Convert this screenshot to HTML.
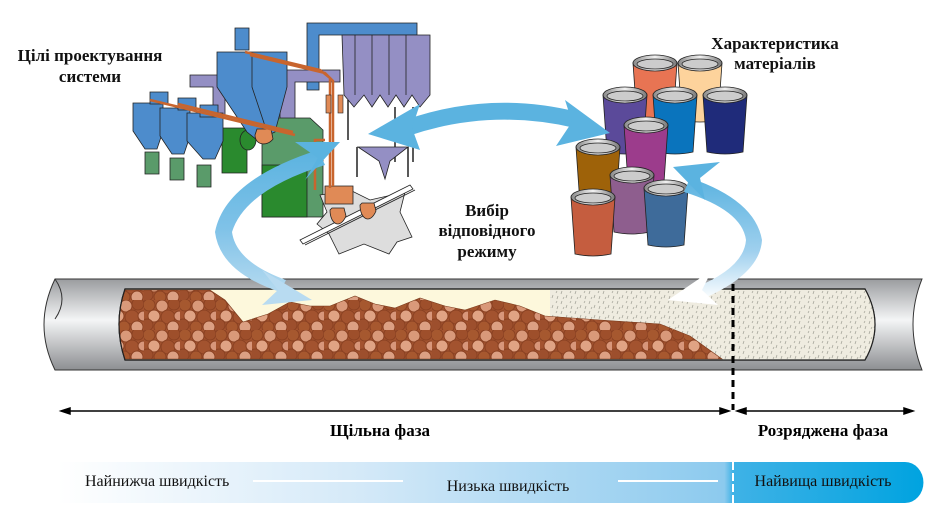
<!DOCTYPE html>
<html><head><meta charset="utf-8"><style>
html,body{margin:0;padding:0;background:#fff;}
svg{display:block;}
text{font-family:"Liberation Serif","Times New Roman",serif;}
</style></head><body>
<svg width="940" height="531" viewBox="0 0 940 531" xmlns="http://www.w3.org/2000/svg" font-family="Liberation Serif, Times New Roman, serif">
<defs>
<linearGradient id="pipeG" x1="0" y1="0" x2="0" y2="1">
<stop offset="0" stop-color="#9a9c9f"/><stop offset="0.45" stop-color="#f4f5f6"/><stop offset="1" stop-color="#8d8f92"/>
</linearGradient>
<linearGradient id="barG" x1="0" y1="0" x2="1" y2="0">
<stop offset="0" stop-color="#ffffff"/><stop offset="0.35" stop-color="#d4e9f8"/><stop offset="0.77" stop-color="#8ccaee"/><stop offset="0.78" stop-color="#3fb2e6"/><stop offset="1" stop-color="#00a3e0"/>
</linearGradient>
<linearGradient id="lidG" x1="0" y1="0" x2="1" y2="0">
<stop offset="0" stop-color="#888"/><stop offset="0.5" stop-color="#f2f2f2"/><stop offset="1" stop-color="#777"/>
</linearGradient>
<linearGradient id="arrL" x1="0" y1="0" x2="0" y2="1">
<stop offset="0" stop-color="#5bb3e0"/><stop offset="0.55" stop-color="#7fc2e8"/><stop offset="1" stop-color="#b5daf0"/>
</linearGradient>
<linearGradient id="arrR" x1="0" y1="0" x2="0" y2="1">
<stop offset="0" stop-color="#5bb3e0"/><stop offset="0.6" stop-color="#9fd0ee"/><stop offset="1" stop-color="#ffffff"/>
</linearGradient>
<pattern id="rocks" width="36" height="30" patternUnits="userSpaceOnUse">
<rect width="36" height="30" fill="#a3532f"/>
<g stroke="#8a4122" stroke-width="1">
<circle cx="5" cy="5" r="6" fill="#a6582f"/><circle cx="18" cy="6" r="6" fill="#d9997a"/><circle cx="30" cy="4" r="6" fill="#9e4f2b"/>
<circle cx="10" cy="16" r="6" fill="#e0a384"/><circle cx="24" cy="17" r="7" fill="#a3532f"/><circle cx="35" cy="16" r="5" fill="#d8967a"/>
<circle cx="3" cy="25" r="6" fill="#9d4f2d"/><circle cx="16" cy="27" r="6" fill="#a7582f"/><circle cx="29" cy="27" r="6" fill="#dca083"/>
</g>
</pattern>
<pattern id="speck" width="14" height="10" patternUnits="userSpaceOnUse">
<rect width="14" height="10" fill="#efece0"/>
<g stroke="#a7a79c" stroke-width="0.8"><path d="M2 1l-1 3M7 5l-1 3M11 1l-1 2M4 7l-1 2M12 6l-1 3"/></g>
</pattern>
</defs>

<g stroke="#222" stroke-width="0.8">
<path d="M307 23h110v12h-98v55h-12z" fill="#4d8ccc"/>
<path d="M342 35h88v60l-10 12-8-12-8 12-8-12-8 12-8-12-8 12-8-12-10 12-10-12z" fill="#948fc4"/>
<path d="M355 35v60M372 35v60M389 35v60M406 35v60" fill="none"/>
<path d="M348 100v40M395 107v55M413 107v55" fill="none" stroke-width="1.5"/>
<path d="M280 70h60v12h-45v40h-15z" fill="#948fc4"/>
<path d="M190 75h35v40h-12v-28h-23z" fill="#948fc4"/>
<path d="M358 147h50l-18 14-5 18-6-18z" fill="#948fc4"/>
<path d="M357 147v30M408 147v30" fill="none" stroke-width="1.5"/>
<path d="M262 118h48l13 12v87h-61z" fill="#5a9b6a"/>
<path d="M262 165h45v52h-45z" fill="#2a8a2e"/>
<path d="M222 128h25v45h-25z" fill="#2a8a2e"/>
<ellipse cx="248" cy="140" rx="8" ry="10" fill="#2a8a2e"/>
<path d="M235 28h14v22h-14z" fill="#4d8ccc"/>
<path d="M217 52h70v35l-12 45-18 8-10-8-30-45z" fill="#4d8ccc"/>
<path d="M252 52v35l15 45" fill="none"/>
<path d="M255 135c0 10 12 12 18 4l-2-10h-14z" fill="#e08a56"/>
<g fill="#4d8ccc">
<path d="M133 103h30v28l-6 18h-12l-12-18z"/><path d="M160 108h30v28l-6 18h-12l-12-18z"/><path d="M187 113h36v28l-8 18h-12l-16-18z"/>
<path d="M150 92h18v12h-18zM178 98h18v12h-18zM200 105h18v12h-18z"/>
</g>
<g fill="#5a9b6a"><path d="M145 152h14v22h-14zM170 158h14v22h-14zM197 165h14v22h-14z"/></g>
<path d="M320 195l30-5 20 10 35-8-5 20 12 25-15 5-8 12-25-10-25 10-10-20-12-10 10-12z" fill="#ddd"/>
<path d="M300 240l110-55 3 4-110 55zM305 245l110-55" fill="#fff"/>
<path d="M325 186h28v18h-28z" fill="#e08a56"/>
<path d="M330 210c0 14 10 20 16 6l-2-8h-12zM360 205c0 14 10 20 16 6l-2-8h-12z" fill="#e08a56"/>
</g>
<g fill="none" stroke="#c8652e" stroke-width="2.5">
<path d="M150 100l145 35M178 104l115 28"/>
<path d="M245 52l75 18 10 8v110M250 55l75 18 8 8v105"/>
<path d="M325 140h-10v50"/>
</g>
<g fill="#e08a56" stroke="#222" stroke-width="0.6"><rect x="326" y="95" width="5" height="18"/><rect x="338" y="95" width="5" height="18"/></g>

<g stroke="#222" stroke-width="0.8">
<g transform="translate(655,63)"><path d="M-22 0L22 0L18 57Q0 61-18 57Z" fill="#e87453"/><ellipse rx="22" ry="8" fill="url(#lidG)"/><ellipse cy="1" rx="18" ry="5" fill="#ccc"/></g>
<g transform="translate(700,63)"><path d="M-22 0L22 0L18 57Q0 61-18 57Z" fill="#fdd39c"/><ellipse rx="22" ry="8" fill="url(#lidG)"/><ellipse cy="1" rx="18" ry="5" fill="#ccc"/></g>
<g transform="translate(625,95)"><path d="M-22 0L22 0L18 57Q0 61-18 57Z" fill="#5b4a9a"/><ellipse rx="22" ry="8" fill="url(#lidG)"/><ellipse cy="1" rx="18" ry="5" fill="#ccc"/></g>
<g transform="translate(675,95)"><path d="M-22 0L22 0L18 57Q0 61-18 57Z" fill="#0a74bd"/><ellipse rx="22" ry="8" fill="url(#lidG)"/><ellipse cy="1" rx="18" ry="5" fill="#ccc"/></g>
<g transform="translate(725,95)"><path d="M-22 0L22 0L18 57Q0 61-18 57Z" fill="#1f2b7a"/><ellipse rx="22" ry="8" fill="url(#lidG)"/><ellipse cy="1" rx="18" ry="5" fill="#ccc"/></g>
<g transform="translate(646,125)"><path d="M-22 0L22 0L18 57Q0 61-18 57Z" fill="#9c3c8c"/><ellipse rx="22" ry="8" fill="url(#lidG)"/><ellipse cy="1" rx="18" ry="5" fill="#ccc"/></g>
<g transform="translate(598,147)"><path d="M-22 0L22 0L18 57Q0 61-18 57Z" fill="#9e6209"/><ellipse rx="22" ry="8" fill="url(#lidG)"/><ellipse cy="1" rx="18" ry="5" fill="#ccc"/></g>
<g transform="translate(632,175)"><path d="M-22 0L22 0L18 57Q0 61-18 57Z" fill="#8e5e8e"/><ellipse rx="22" ry="8" fill="url(#lidG)"/><ellipse cy="1" rx="18" ry="5" fill="#ccc"/></g>
<g transform="translate(666,188)"><path d="M-22 0L22 0L18 57Q0 61-18 57Z" fill="#3e6b9a"/><ellipse rx="22" ry="8" fill="url(#lidG)"/><ellipse cy="1" rx="18" ry="5" fill="#ccc"/></g>
<g transform="translate(593,197)"><path d="M-22 0L22 0L18 57Q0 61-18 57Z" fill="#c55d3f"/><ellipse rx="22" ry="8" fill="url(#lidG)"/><ellipse cy="1" rx="18" ry="5" fill="#ccc"/></g>
</g>

<path d="M55 279H922q-18 45 0 91H55q-22-45 0-91z" fill="url(#pipeG)" stroke="#333" stroke-width="1"/>
<path d="M55 279q14 20 0 40" fill="none" stroke="#333"/>
<path d="M125 289H865q20 36 0 71H125q-12-36 0-71z" fill="#fdf8dc" stroke="#222" stroke-width="1.2"/>
<path d="M550 290H865q20 36 0 70H550z" fill="url(#speck)"/>
<path d="M125 290H210L225 300L243 322L268 314L290 302L310 306L330 306L355 296L375 304L395 308L420 298L445 306L465 310L495 300L520 306L545 316L600 320L660 324L690 336L722 359H125Q113 324 125 290z" fill="url(#rocks)" stroke="#7a3a1c" stroke-width="0.6"/>
<path d="M125 289H865q20 36 0 71H125q-12-36 0-71z" fill="none" stroke="#222" stroke-width="1.2"/>
<path d="M733 284v126" stroke="#000" stroke-width="3" stroke-dasharray="7,5"/>

<path d="M405 120Q490 90 578 112L575 128Q490 108 408 136z" fill="#5bb3e0"/>
<path d="M368 134L420 104L412 128L420 150z" fill="#5bb3e0"/>
<path d="M610 133L565 100L572 122L556 146z" fill="#5bb3e0"/>
<path d="M318 150Q225 180 215 232Q220 272 280 292L286 280Q236 262 232 232Q245 190 325 165z" fill="url(#arrL)"/>
<path d="M340 142L295 142L318 158L305 180z" fill="#5bb3e0"/>
<path d="M312 300L262 270L278 290L262 305z" fill="#b8dbf1"/>
<path d="M690 178Q755 200 762 240Q760 275 700 300L694 288Q744 268 746 240Q742 210 684 192z" fill="url(#arrR)"/>
<path d="M673 167L720 162L700 178L705 200z" fill="#5bb3e0"/>
<path d="M668 300L712 270L702 290L718 305z" fill="#ffffff"/>

<g stroke="#000" stroke-width="1.5" fill="#000">
<line x1="64" y1="411" x2="726" y2="411"/><line x1="740" y1="411" x2="910" y2="411"/>
<path d="M61 411l9-3v6z"/><path d="M729 411l-9-3v6z"/><path d="M737 411l9-3v6z"/><path d="M913 411l-9-3v6z"/>
</g>
<text x="380" y="436" font-size="17" font-weight="bold" text-anchor="middle" font-family="Liberation Serif, serif">Щільна фаза</text>
<text x="823" y="436" font-size="17" font-weight="bold" text-anchor="middle" font-family="Liberation Serif, serif">Розряджена фаза</text>

<path d="M58 462H905a18 20 0 0 1 0 41H58z" fill="url(#barG)"/>
<line x1="733" y1="462" x2="733" y2="503" stroke="#fff" stroke-width="2" stroke-dasharray="8,3"/>
<line x1="253" y1="481" x2="403" y2="481" stroke="#fff" stroke-width="2"/>
<line x1="618" y1="481" x2="718" y2="481" stroke="#fff" stroke-width="2"/>
<g font-family="Liberation Serif, serif" font-size="16" fill="#111">
<text x="85" y="486">Найнижча швидкість</text>
<text x="508" y="491" text-anchor="middle">Низька швидкість</text>
<text x="823" y="486" text-anchor="middle">Найвища швидкість</text>
</g>

<g font-size="17" font-weight="bold" fill="#111" text-anchor="middle" font-family="Liberation Serif, serif">
<text x="90" y="61">Цілі проектування</text>
<text x="90" y="82">системи</text>
<text x="775" y="49">Характеристика</text>
<text x="775" y="69">матеріалів</text>
<text x="487" y="216">Вибір</text>
<text x="487" y="236">відповідного</text>
<text x="487" y="257">режиму</text>
</g>
</svg>
</body></html>
